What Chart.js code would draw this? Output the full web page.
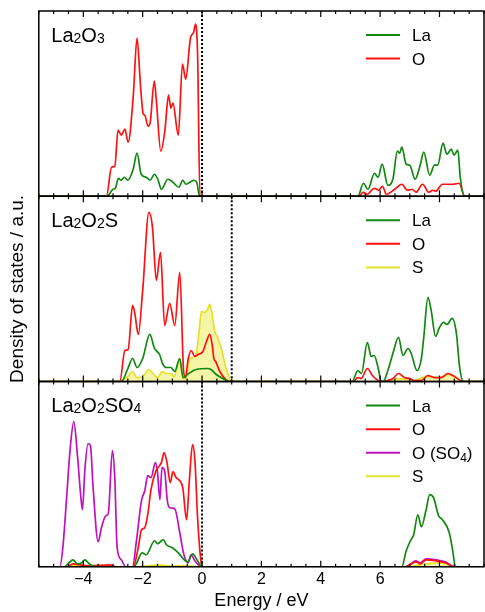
<!DOCTYPE html>
<html>
<head>
<meta charset="utf-8">
<script src="https://cdn.jsdelivr.net/npm/chart.js@4.4.1/dist/chart.umd.min.js"></script>
<style>
  html, body { margin: 0; padding: 0; background: #fff; }
  canvas { display: block; }
</style>
</head>
<body>
<canvas id="dos" width="485" height="612"></canvas>
<script>
// x axis
const energyTicks = [-4, -2, 0, 2, 4, 6, 8];
const fermiLevels = [0, 1.0, 0];
const panelTitles = ["La_2O_3", "La_2O_2S", "La_2O_2SO_4"];

// --- La2O3 ---
const la2o3_La_E = [-5.5, -3.2, -3.0, -2.92, -2.82, -2.73, -2.62, -2.5, -2.32, -2.19, -2.05, -1.88, -1.75, -1.6, -1.49, -1.37, -1.15, -0.98, -0.78, -0.65, -0.55, -0.27, -0.18, -0.08, 5.25, 5.44, 5.59, 5.81, 5.93, 6.07, 6.26, 6.43, 6.58, 6.66, 6.73, 6.88, 7.0, 7.18, 7.35, 7.47, 7.67, 7.83, 7.94, 8.12, 8.25, 8.4, 8.49, 8.62, 8.7, 8.85, 9.5];
const la2o3_La = [0, 0, 7, 8, 18, 16, 19, 16, 27, 43, 22, 19, 16, 22, 17, 7, 17, 14, 9, 16, 12, 16, 14, 0, 0, 13, 7, 23, 19, 32, 11, 17, 45, 43, 49, 32, 31, 17, 31, 44, 21, 31, 31, 53, 42, 47, 41, 46, 19, 0, 0];
const la2o3_O_E = [-5.5, -3.22, -3.05, -2.94, -2.83, -2.72, -2.6, -2.49, -2.32, -2.19, -2.07, -1.98, -1.93, -1.82, -1.75, -1.61, -1.54, -1.39, -1.25, -1.13, -1.05, -0.98, -0.8, -0.66, -0.55, -0.39, -0.28, -0.22, -0.15, -0.07, 5.28, 5.43, 5.56, 5.81, 5.95, 6.08, 6.21, 6.49, 6.73, 6.92, 7.08, 7.21, 7.43, 7.64, 7.78, 7.87, 8.1, 8.46, 8.66, 8.85, 9.5];
const la2o3_O = [0, 0, 29, 30, 66, 61, 67, 54, 99, 158, 109, 82, 81, 70, 73, 115, 96, 45, 66, 101, 88, 93, 61, 132, 117, 158, 164, 172, 142, 0, 0, 4, 2, 8, 6, 10, 2, 7, 12, 6, 7, 4, 12, 4, 6, 5, 12, 12, 13, 0, 0];

// --- La2O2S ---
const la2o2s_La_E = [-5.5, -2.72, -2.5, -2.34, -2.19, -2.0, -1.76, -1.6, -1.43, -1.33, -1.2, -1.05, -0.92, -0.75, -0.64, -0.45, -0.2, 0.2, 0.3, 0.48, 0.7, 0.93, 5.06, 5.25, 5.37, 5.57, 5.7, 5.8, 5.93, 6.04, 6.1, 6.26, 6.43, 6.62, 6.77, 6.94, 7.05, 7.24, 7.39, 7.47, 7.61, 7.72, 7.87, 8.0, 8.14, 8.25, 8.43, 8.57, 8.68, 8.81, 9.5];
const la2o2s_La = [0, 0, 13, 23, 14, 23, 47, 33, 27, 18, 14, 14, 10, 23, 4, 8, 12, 13, 12, 7, 3, 0, 0, 11, 8, 39, 25, 26, 14, 0, 0, 11, 28, 44, 26, 33, 28, 11, 23, 44, 84, 71, 45, 54, 59, 57, 63, 48, 14, 0, 0];
const la2o2s_O_E = [-5.5, -2.77, -2.6, -2.49, -2.34, -2.26, -2.15, -2.0, -1.79, -1.67, -1.54, -1.4, -1.26, -1.09, -0.92, -0.75, -0.62, -0.56, -0.47, -0.36, -0.25, -0.13, 0.03, 0.15, 0.26, 0.34, 0.4, 0.46, 0.6, 0.77, 0.93, 5.1, 5.25, 5.36, 5.57, 5.74, 5.93, 6.05, 6.25, 6.43, 6.62, 6.82, 7.0, 7.16, 7.39, 7.61, 7.83, 8.06, 8.28, 8.45, 8.81, 9.5];
const la2o2s_O = [0, 0, 31, 32, 76, 67, 47, 91, 169, 154, 101, 129, 56, 78, 56, 109, 10, 4, 22, 31, 25, 27, 30, 40, 47, 37, 23, 20, 10, 3, 0, 0, 4, 3, 13, 6, 1, 0, 1, 3, 8, 4, 3, 1, 1, 6, 4, 4, 8, 6, 0, 0];
const la2o2s_S_E = [-5.5, -2.77, -2.6, -2.47, -2.35, -2.19, -2.0, -1.79, -1.65, -1.5, -1.34, -1.2, -1.05, -0.94, -0.75, -0.64, -0.55, -0.41, -0.3, -0.2, -0.1, -0.02, 0.08, 0.18, 0.26, 0.32, 0.43, 0.54, 0.65, 0.82, 1.02, 6.3, 6.55, 7.0, 7.16, 7.55, 8.0, 8.35, 8.5, 8.81, 9.5];
const la2o2s_S = [0, 0, 3, 6, 10, 4, 5, 12, 8, 4, 10, 8, 8, 5, 23, 3, 3, 23, 24, 27, 50, 70, 69, 72, 77, 70, 50, 43, 33, 12, 0, 0, 3, 2, 1, 5, 4, 7, 5, 0, 0];

// --- La2O2SO4 ---
const la2o2so4_La_E = [-5.5, -4.65, -4.45, -4.35, -4.2, -4.05, -3.95, -3.8, -3.6, -2.3, -2.2, -2.02, -1.88, -1.6, -1.49, -1.37, -1.3, -1.2, -1.0, -0.8, -0.6, -0.48, -0.32, -0.17, -0.01, 6.73, 6.88, 7.02, 7.13, 7.27, 7.39, 7.55, 7.67, 7.8, 7.97, 8.1, 8.32, 8.43, 8.54, 9.5];
const la2o2so4_La = [0, 0, 5, 7, 3, 4, 7, 3, 0, 0, 4, 14, 12, 26, 23, 26, 27, 22, 19, 14, 7, 5, 13, 7, 0, 0, 16, 26, 32, 52, 40, 57, 72, 69, 51, 47, 35, 19, 0, 0];
const la2o2so4_O_E = [-5.5, -4.55, -4.35, -4.1, -3.8, -3.1, -2.9, -2.32, -2.15, -2.04, -1.93, -1.83, -1.72, -1.55, -1.46, -1.37, -1.28, -1.18, -1.07, -0.98, -0.87, -0.75, -0.65, -0.52, -0.43, -0.32, -0.24, -0.15, -0.03, 0.02, 6.85, 7.0, 7.2, 7.35, 7.55, 7.9, 8.2, 8.5, 9.5];
const la2o2so4_O = [0, 0, 3, 2, 1, 2, 0, 0, 19, 37, 39, 52, 77, 96, 100, 104, 114, 104, 84, 95, 89, 86, 79, 47, 85, 122, 106, 49, 4, 0, 0, 2, 5, 3, 7, 6, 4, 0, 0];
const la2o2so4_OSO4_E = [-5.5, -4.79, -4.69, -4.57, -4.44, -4.32, -4.2, -4.09, -4.03, -3.95, -3.84, -3.76, -3.67, -3.5, -3.39, -3.24, -3.16, -3.02, -2.94, -2.86, -2.72, -2.57, -2.34, -2.21, -2.04, -1.93, -1.83, -1.72, -1.57, -1.5, -1.42, -1.35, -1.26, -1.17, -1.09, -0.92, -0.75, -0.61, -0.47, -0.37, -0.24, -0.03, 6.85, 7.0, 7.2, 7.35, 7.55, 7.9, 8.2, 8.5, 9.5];
const la2o2so4_OSO4 = [0, 0, 19, 66, 119, 145, 112, 72, 57, 96, 123, 121, 79, 25, 39, 51, 53, 116, 89, 19, 7, 0, 0, 26, 66, 76, 91, 89, 104, 94, 67, 99, 96, 66, 59, 58, 34, 12, 4, 12, 6, 0, 0, 2, 6, 4, 8, 7, 5, 0, 0];
const la2o2so4_S_E = [-5.5, -4.6, -4.4, -4.2, -3.9, -2.2, -1.8, -1.5, -1.1, -0.5, -0.1, 7.0, 7.3, 7.6, 7.9, 8.2, 8.5, 9.5];
const la2o2so4_S = [0, 0, 1, 1, 0, 0, 1, 2, 1, 1, 0, 0, 2, 3, 4, 3, 0, 0];

const FONT = "'Liberation Sans', Arial, Helvetica, sans-serif";
const GREEN = '#118811', RED = '#ff1111', MAGENTA = '#c010c0', YELLOW = '#e2e22a';
const YELLOW_FILL = 'rgba(238, 238, 110, 0.6)';

// panel index, legend label, colour, energies, values, filled
const series = [
  [0, 'La', GREEN, la2o3_La_E, la2o3_La, false],
  [0, 'O', RED, la2o3_O_E, la2o3_O, false],
  [1, 'La', GREEN, la2o2s_La_E, la2o2s_La, false],
  [1, 'O', RED, la2o2s_O_E, la2o2s_O, false],
  [1, 'S', YELLOW, la2o2s_S_E, la2o2s_S, true],
  [2, 'La', GREEN, la2o2so4_La_E, la2o2so4_La, false],
  [2, 'O', RED, la2o2so4_O_E, la2o2so4_O, false],
  [2, 'O (SO_4)', MAGENTA, la2o2so4_OSO4_E, la2o2so4_OSO4, false],
  [2, 'S', YELLOW, la2o2so4_S_E, la2o2so4_S, true],
];

const datasets = series.map(([panel, label, color, xs, ys, filled]) => ({
  label: label,
  yAxisID: 'y' + panel,
  data: xs.map((x, i) => ({ x: x, y: ys[i] })),
  borderColor: color,
  backgroundColor: filled ? YELLOW_FILL : color,
  borderWidth: 1.7,
  fill: filled ? 'origin' : false,
  pointRadius: 0,
  cubicInterpolationMode: 'monotone',
}));

// split "La_2O_3" into [text, isSub] runs
function richParts(str) {
  const parts = [];
  str.split(/(_\d)/).forEach(s => {
    if (!s) return;
    if (s[0] === '_') parts.push([s.slice(1), true]);
    else parts.push([s, false]);
  });
  return parts;
}

function drawRich(ctx, str, x, y, size, subSize, subDrop) {
  for (const [txt, sub] of richParts(str)) {
    ctx.font = (sub ? subSize : size) + 'px ' + FONT;
    ctx.fillText(txt, x, y + (sub ? subDrop : 0));
    x += ctx.measureText(txt).width;
  }
}

const panelDecor = {
  id: 'panelDecor',
  afterDatasetsDraw(chart) {
    const ctx = chart.ctx;
    const xs = chart.scales.x;
    const left = chart.chartArea.left, right = chart.chartArea.right;
    ctx.save();
    for (let p = 0; p < 3; p++) {
      const ys = chart.scales['y' + p];
      const top = ys.top, bottom = ys.bottom;

      // dotted Fermi / VBM line
      ctx.strokeStyle = '#000';
      ctx.lineWidth = 2;
      ctx.setLineDash([2, 2]);
      const fx = xs.getPixelForValue(fermiLevels[p]);
      ctx.beginPath();
      ctx.moveTo(fx, top);
      ctx.lineTo(fx, bottom);
      ctx.stroke();
      ctx.setLineDash([]);

      // inward ticks top and bottom
      ctx.lineWidth = 1.2;
      for (let k = -11; k <= 19; k++) {
        const v = k / 2;
        const len = k % 4 === 0 ? 6 : 3;
        const px = xs.getPixelForValue(v);
        ctx.beginPath();
        ctx.moveTo(px, bottom);
        ctx.lineTo(px, bottom - len);
        ctx.moveTo(px, top);
        ctx.lineTo(px, top + len);
        ctx.stroke();
      }

      // frame
      ctx.lineWidth = 1.5;
      ctx.strokeRect(left, top, right - left, bottom - top);

      // panel title
      ctx.fillStyle = '#000';
      ctx.textBaseline = 'alphabetic';
      ctx.textAlign = 'left';
      drawRich(ctx, panelTitles[p], left + 12.5, top + 30.5, 20, 14, 1);

      // legend
      const items = series.filter(s => s[0] === p);
      items.forEach((s, j) => {
        const ly = top + 24 + j * 23.6;
        ctx.strokeStyle = s[2];
        ctx.lineWidth = 2;
        ctx.beginPath();
        ctx.moveTo(right - 118, ly);
        ctx.lineTo(right - 84, ly);
        ctx.stroke();
        ctx.fillStyle = '#000';
        drawRich(ctx, s[1], right - 72, ly + 6, 17, 12, 3);
      });
    }
    ctx.restore();
  }
};

const yAxis = (title) => ({
  type: 'linear',
  position: 'left',
  stack: 'dos',
  stackWeight: 1,
  min: 0,
  max: 185,
  grid: { display: false, drawTicks: false },
  border: { display: false },
  ticks: { display: false },
  title: title ? {
    display: true,
    text: title,
    color: '#000',
    font: { family: FONT, size: 19 },
    padding: { top: 2, bottom: 10 },
  } : { display: false },
});

new Chart(document.getElementById('dos'), {
  type: 'line',
  data: { datasets: datasets },
  options: {
    responsive: false,
    animation: false,
    devicePixelRatio: 1,
    layout: { padding: { left: 4, right: 1, top: 11, bottom: 2 } },
    plugins: { legend: { display: false }, tooltip: { enabled: false } },
    scales: {
      x: {
        type: 'linear',
        min: -5.5,
        max: 9.5,
        grid: { display: false, drawTicks: false },
        border: { display: false },
        afterBuildTicks: s => { s.ticks = energyTicks.map(v => ({ value: v })); },
        ticks: {
          color: '#000',
          font: { family: FONT, size: 16 },
          padding: 3,
          maxRotation: 0,
          autoSkip: false,
          callback: v => (v < 0 ? '\u2212' + Math.abs(v) : String(v)),
        },
        title: {
          display: true,
          text: 'Energy / eV',
          color: '#000',
          font: { family: FONT, size: 18, lineHeight: 1 },
          padding: { top: 0, bottom: 0 },
        },
      },
      // left stacked axes are laid out last-defined on top
      y2: yAxis(null),
      y1: yAxis('Density of states / a.u.'),
      y0: yAxis(null),
    },
  },
  plugins: [panelDecor],
});
</script>
</body>
</html>
